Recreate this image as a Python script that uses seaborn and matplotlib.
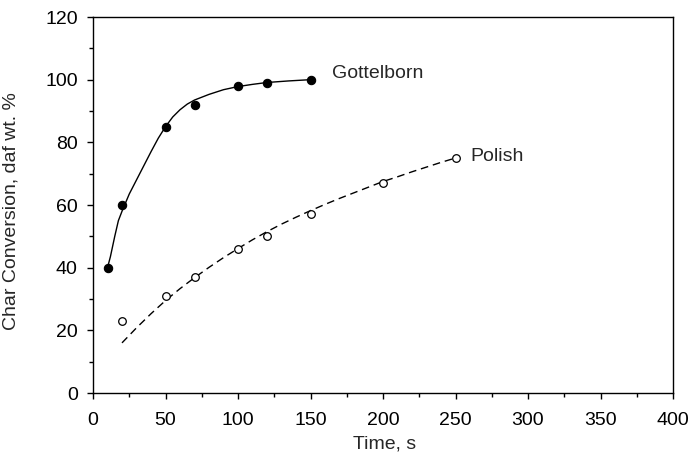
import matplotlib
matplotlib.use("Agg")
import matplotlib.pyplot as plt
from matplotlib.ticker import MultipleLocator
import seaborn as sns
import pandas as pd

# Measured data points
gott_t = [10, 20, 50, 70, 100, 120, 150]
gott_conv = [40, 60, 85, 92, 98, 99, 100]
pol_t = [20, 50, 70, 100, 120, 150, 200, 250]
pol_conv = [23, 31, 37, 46, 50, 57, 67, 75]

# Fitted curves
gott_fit_t = [10, 12, 15, 17.5, 20, 25, 30, 35, 40, 45, 50, 55, 60, 65, 70, 80, 90, 100, 110, 120, 135, 150]
gott_fit_y = [40, 43.5, 50, 55, 58, 63.5, 68, 72.5, 77, 81.3, 85, 88.1, 90.4, 92.2, 93.5, 95.3, 96.8, 97.8, 98.5, 99.1, 99.6, 100]
pol_fit_t = [20, 30, 40, 50, 60, 70, 80, 90, 100, 110, 120, 130, 140, 150, 160, 170, 180, 190, 200, 210, 220, 230, 240, 250]
pol_fit_y = [16, 20.8, 25.3, 29.5, 33.3, 36.8, 40.1, 43.2, 46.1, 48.9, 51.5, 53.9, 56.1, 58.2, 60.2, 62.1, 63.9, 65.7, 67.5, 69.0, 70.6, 72.1, 73.6, 75]

labels = ["Gottelborn", "Polish"]
label_pos = [(165, 102), (260, 75.5)]

sns.set_style("ticks")
plt.rcParams['font.family'] = ['Liberation Sans', 'DejaVu Sans']
plt.rcParams['font.size'] = 14

fig = plt.figure(figsize=(6.9, 4.62), dpi=100)
ax = fig.add_axes([93/690, 1-393/462, 580/690, 376/462])

gf = pd.DataFrame({"t": gott_fit_t, "y": gott_fit_y})
pf = pd.DataFrame({"t": pol_fit_t, "y": pol_fit_y})
gp = pd.DataFrame({"t": gott_t, "y": gott_conv})
pp = pd.DataFrame({"t": pol_t, "y": pol_conv})

sns.lineplot(data=gf, x="t", y="y", ax=ax, color="black", lw=1.0, sort=False, estimator=None)
sns.lineplot(data=pf, x="t", y="y", ax=ax, color="black", lw=1.0, sort=False, estimator=None,
             linestyle=(0, (5.5, 3.5)))
sns.scatterplot(data=gp, x="t", y="y", ax=ax, color="black", s=36, edgecolor="black", linewidth=0.8, zorder=3)
sns.scatterplot(data=pp, x="t", y="y", ax=ax, facecolor="white", s=30, edgecolor="black", linewidth=0.9, zorder=3)

for lab, (x, y) in zip(labels, label_pos):
    ax.text(x, y, lab, ha="left", va="center", fontsize=14)

ax.set_xlim(0, 400)
ax.set_ylim(0, 120)
ax.xaxis.set_major_locator(MultipleLocator(50))
ax.xaxis.set_minor_locator(MultipleLocator(25))
ax.yaxis.set_major_locator(MultipleLocator(20))
ax.yaxis.set_minor_locator(MultipleLocator(10))
ax.tick_params(axis="both", which="major", direction="out", length=4, width=1, colors="black", labelsize=14)
ax.tick_params(axis="both", which="minor", direction="out", length=3, width=1, colors="black")
ax.tick_params(axis="x", which="major", pad=10)
ax.tick_params(axis="y", which="major", pad=7)
for s in ax.spines.values():
    s.set_visible(True)
    s.set_linewidth(1.0)
    s.set_color("black")

ax.set_xlabel("Time, s", fontsize=14)
ax.set_ylabel("Char Conversion, daf wt. %", fontsize=14)
ax.xaxis.set_label_coords(0.503, -0.112)
ax.yaxis.set_label_coords(-0.126, 0.485)

fig.savefig("out.png", dpi=100)
